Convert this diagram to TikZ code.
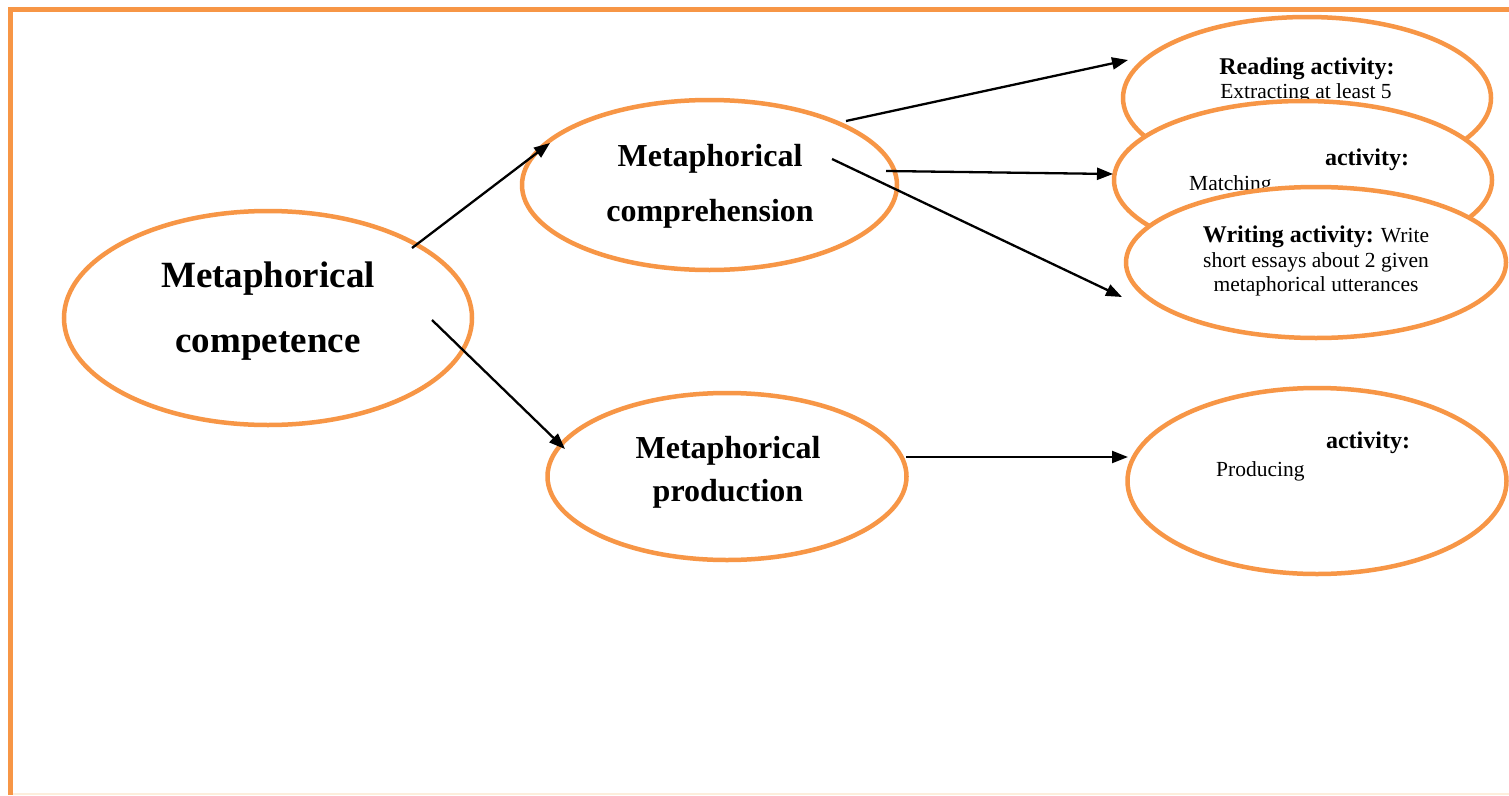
\documentclass[tikz,border=0pt]{standalone}
\usepackage{fontspec}
\setmainfont{Liberation Serif}
\usetikzlibrary{shapes.geometric,arrows.meta}
\definecolor{acc}{HTML}{F79646}
\definecolor{faint}{HTML}{FDEEDC}
\tikzset{
  oval/.style={ellipse, draw=acc, line width=4.5pt, fill=white, inner sep=0pt},
  big/.style={font=\fontsize{37}{65}\selectfont\bfseries, align=center, inner sep=0pt},
  mid/.style={font=\fontsize{32}{55}\selectfont\bfseries, align=center, inner sep=0pt},
  small/.style={font=\fontsize{21.5}{25}\selectfont, inner sep=0pt, anchor=base},
  smallb/.style={font=\fontsize{24}{25}\selectfont\bfseries, inner sep=0pt, anchor=base},
  arr/.style={line width=2.3pt, -{Triangle[length=16pt,width=12pt]}}
}
\begin{document}
\begin{tikzpicture}[x=1pt,y=-1pt]
\useasboundingbox (0,0) rectangle (1509,795);
\fill[white] (0,0) rectangle (1509,795);
% frame
\draw[faint, line width=1.5pt] (10,794) -- (1509,794);
\draw[acc, line width=5pt] (10.5,795) -- (10.5,9.5) -- (1509,9.5);

% main ellipses
\node[oval, minimum width=408pt, minimum height=214pt] (comp) at (268,318) {};
\node[big] (compt) at (268,311) {Metaphorical\\competence};
\node[oval, minimum width=375pt, minimum height=170pt] (compr) at (709.5,185) {};
\node[mid] (comprt) at (710,186) {Metaphorical\\comprehension};
\node[oval, minimum width=359pt, minimum height=167pt] (prod) at (727,476.5) {};
\node[font=\fontsize{32}{43}\selectfont\bfseries, align=center, inner sep=0pt] (prodt) at (728,472) {Metaphorical\\production};

% activity ellipses
\node[oval, minimum width=368pt, minimum height=162pt] (read) at (1307,98) {};
\node[smallb] (readh) at (1307,74) {Reading activity:};
\node[small] (readt) at (1306,98) {Extracting at least 5};
\node[oval, minimum width=378pt, minimum height=158pt] (match) at (1303,180) {};
\node[smallb] (matchh) at (1367,165) {activity:};
\node[small, anchor=base west] (matcht) at (1189,190) {Matching};
\node[oval, minimum width=380pt, minimum height=151pt] (write) at (1316,262.5) {};
\node[small] (writel1) at (1316,242) {{\fontsize{24}{25}\selectfont\bfseries Writing activity:} Write};
\node[small] (writel2) at (1316,267) {short essays about 2 given};
\node[small] (writel3) at (1316,291) {metaphorical utterances};
\node[oval, minimum width=379pt, minimum height=186pt] (produce) at (1317,481) {};
\node[smallb] (produceh) at (1368,448) {activity:};
\node[small, anchor=base west] (producet) at (1216,476) {Producing};

% connector end points
\coordinate (a1s) at (412,248); \coordinate (a1e) at (550,143);
\coordinate (a2s) at (432,320); \coordinate (a2e) at (565,449);
\coordinate (a3s) at (846,121); \coordinate (a3e) at (1128,60);
\coordinate (a4s) at (886,171); \coordinate (a4e) at (1113,174);
\coordinate (a5s) at (832,159); \coordinate (a5e) at (1122,297);
\coordinate (a6s) at (906,457); \coordinate (a6e) at (1128,457);
\draw[arr] (a1s) -- (a1e);
\draw[arr] (a2s) -- (a2e);
\draw[arr] (a3s) -- (a3e);
\draw[arr] (a4s) -- (a4e);
\draw[arr] (a5s) -- (a5e);
\draw[arr] (a6s) -- (a6e);
\end{tikzpicture}
\end{document}
